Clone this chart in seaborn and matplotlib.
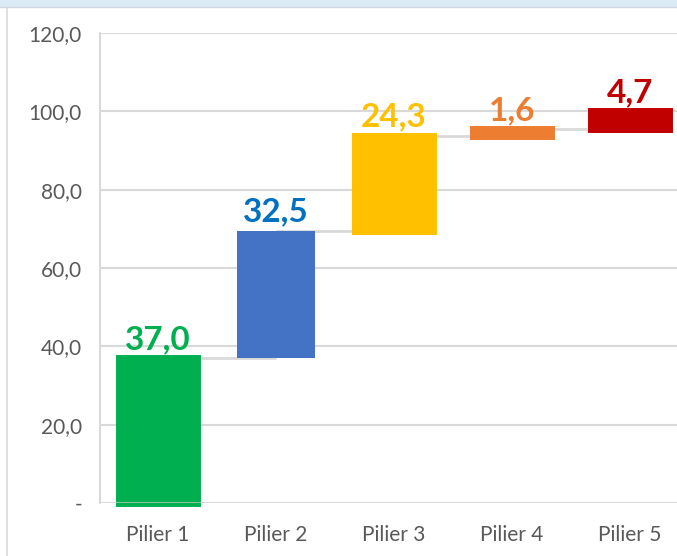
import matplotlib
matplotlib.use("Agg")
import matplotlib.pyplot as plt
from matplotlib.patches import Rectangle
from matplotlib.lines import Line2D
import seaborn as sns
import numpy as np

# data
piliers = ["Pilier 1", "Pilier 2", "Pilier 3", "Pilier 4", "Pilier 5"]
valeurs = [37.0, 32.5, 24.3, 1.6, 4.7]
bar_colors = ["#00B050", "#4472C4", "#FFC000", "#ED7D31", "#C00000"]
label_colors = ["#00B050", "#0070C0", "#FFC000", "#ED7D31", "#C00000"]
y_ticks = [0, 20, 40, 60, 80, 100, 120]

tops = np.cumsum(valeurs)
bases = tops - np.array(valeurs)

sns.set_style("white")
plt.rcParams["font.family"] = ["Lato", "DejaVu Sans"]

fig = plt.figure(figsize=(6.77, 5.56), dpi=100)
ax = fig.add_axes([100 / 677, 53 / 556, 577 / 677, 470 / 556])

bar_w = 0.66
sns.barplot(x=piliers, y=valeurs, bottom=bases, width=bar_w, errorbar=None,
            color=bar_colors[1], saturation=1, ax=ax, zorder=3)

for i, p in enumerate(ax.patches):
    p.set_facecolor(bar_colors[i])
    p.set_clip_on(False)
    if i == 1:
        p.set_linewidth(0)
    else:
        p.set_edgecolor(bar_colors[i])
        p.set_linewidth(5)

# connector lines between bars
x_pos = np.arange(len(piliers))
ax.hlines(tops[:-1], x_pos[:-1], x_pos[1:], color="#D9D9D9", lw=2, zorder=2)
# zero line shows faintly over the first bar
ax.axhline(0, color="#D9D9D9", lw=1.5, alpha=0.6, zorder=4)

# value labels
for i, v in enumerate(valeurs):
    ax.annotate(f"{v:.1f}".replace(".", ","), xy=(i, tops[i]), xytext=(0, 6.5),
                textcoords="offset points", ha="center", va="baseline",
                fontsize=24, fontweight="bold", color=label_colors[i])

ax.set_ylim(0, 120)
ax.set_xlim(-0.49, 4.40)
ax.set_yticks(y_ticks)
ax.set_yticklabels(["-" if t == 0 else f"{t:.1f}".replace(".", ",") for t in y_ticks])
ax.yaxis.grid(True, color="#D9D9D9", lw=1.5)
ax.set_axisbelow(True)
ax.tick_params(axis="y", length=0, pad=13, labelsize=15, labelcolor="#595959")
ax.tick_params(axis="x", length=0, pad=16, labelsize=15, labelcolor="#595959")
ax.set_xlabel("")
ax.set_ylabel("")
for s in ["top", "right", "bottom"]:
    ax.spines[s].set_visible(False)
ax.spines["left"].set_color("#D9D9D9")
ax.spines["left"].set_linewidth(1.5)

# chart frame bits
fig.patches.append(Rectangle((0, 1 - 7 / 556), 1, 7 / 556, transform=fig.transFigure,
                             facecolor="#DDEBF7", edgecolor="none"))
fig.lines.append(Line2D([0, 1], [1 - 7 / 556] * 2, transform=fig.transFigure,
                        color="#D0D7E0", lw=1))
fig.lines.append(Line2D([7 / 677] * 2, [0, 1 - 7 / 556], transform=fig.transFigure,
                        color="#D9D9D9", lw=1.2))

fig.savefig("out.png", dpi=100)
